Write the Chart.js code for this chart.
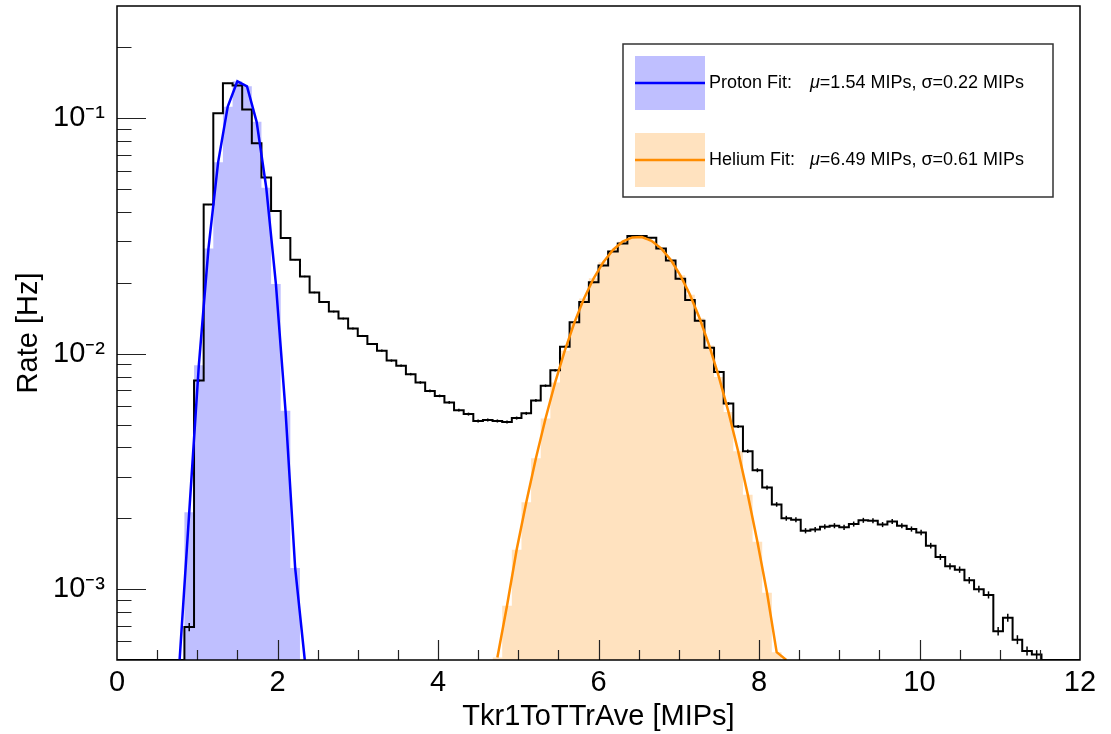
<!DOCTYPE html>
<html>
<head>
<meta charset="utf-8">
<script src="https://cdn.jsdelivr.net/npm/chart.js@4"></script>
<style>
  html, body { margin: 0; padding: 0; background: #fff; }
</style>
</head>
<body>
<canvas id="chart" width="1111" height="734"></canvas>
<script>
// histogram binning: 100 bins of 0.12 MIPs from 0 to 12
const binWidth = 0.12;

// measured rate per bin [Hz]
const rateHist = [
  0, 0, 0, 0, 0, 0, 0, 0.00069, 0.0077, 0.043,
  0.105, 0.141, 0.138, 0.109, 0.0783, 0.0561, 0.0404, 0.0310, 0.0251, 0.0213,
  0.0182, 0.0166, 0.0151, 0.0141, 0.0128, 0.0119, 0.0110, 0.0103, 0.00935, 0.0089,
  0.00819, 0.00755, 0.00695, 0.00662, 0.00621, 0.00576, 0.00554, 0.00518, 0.00523, 0.00518,
  0.00513, 0.00533, 0.00558, 0.00633, 0.00731, 0.0085, 0.0107, 0.0136, 0.0166, 0.0201,
  0.0237, 0.0272, 0.0294, 0.0316, 0.0316, 0.0311, 0.0280, 0.0249, 0.0208, 0.0169,
  0.0138, 0.0106, 0.00836, 0.00614, 0.00491, 0.00385, 0.0032, 0.0027, 0.00229, 0.0020,
  0.00197, 0.00177, 0.00179, 0.00184, 0.00186, 0.00183, 0.00189, 0.00196, 0.00195, 0.00188,
  0.00194, 0.00186, 0.0018, 0.00174, 0.00153, 0.00137, 0.00125, 0.00121, 0.00109, 0.0010,
  0.000945, 0.000663, 0.000756, 0.00061, 0.000546, 0.000527, 0, 0, 0, 0
];

// fit curves, sampled at the bin centres
const protonFirstBin = 6;
const protonFit = [0.00037, 0.00212, 0.00894, 0.0280, 0.0650, 0.1121, 0.1436,
  0.1367, 0.0966, 0.0507, 0.0198, 0.00572, 0.00123, 0.0002];
const heliumFirstBin = 39;
const heliumFit = [0.000512, 0.00085, 0.00147, 0.00234, 0.0036, 0.00531, 0.00755,
  0.0103, 0.01357, 0.01718, 0.02091, 0.02449, 0.0276, 0.02992, 0.03119, 0.03129,
  0.0302, 0.02804, 0.02505, 0.02153, 0.0178, 0.01415, 0.01083, 0.00797, 0.00565,
  0.00385, 0.00252, 0.00159, 0.000965, 0.00054, 0.00032];

const fitNames = ['Proton Fit:', 'Helium Fit:'];
const fitMu = ['1.54', '6.49'];
const fitSigma = ['0.22', '0.61'];

const xTickLabels = ['0', '2', '4', '6', '8', '10', '12'];
const yDecades = [0.001, 0.01, 0.1];
const yTickLabels = ['10⁻³', '10⁻²', '10⁻¹'];

const xMin = 0, xMax = 12, yMin = 5e-4, yMax = 0.3;

const fontFamily = "'Liberation Sans', Arial, Helvetica, sans-serif";
const fitColors = ['#0000ff', '#ff8c00'];
const fitFills = ['rgba(0, 0, 255, 0.25)', 'rgba(255, 140, 0, 0.25)'];

Chart.defaults.font.family = fontFamily;
Chart.defaults.color = '#000';

// values under the frame are drawn on the frame, like ROOT does on log axes
const clampY = v => Math.max(v, yMin);
const edge = k => +(k * binWidth).toFixed(3);
const centre = k => +((k + 0.5) * binWidth).toFixed(3);

// one point on the left edge of each bin plus the closing right edge,
// drawn with stepped: 'before' so each value stays flat across its bin
function stepPoints(values, first) {
  const pts = values.map((v, i) => ({ x: edge(first + i), y: clampY(v) }));
  pts.push({ x: edge(first + values.length), y: clampY(values[values.length - 1]) });
  return pts;
}
function centrePoints(values, first) {
  return values.map((v, i) => ({ x: centre(first + i), y: clampY(v) }));
}

const xTicks = [];
for (let v = xMin; v <= xMax; v += 0.5) xTicks.push(v);
const yTicks = [];
[0.0001, 0.001, 0.01, 0.1].forEach(d => {
  for (let m = 1; m <= 9; m++) {
    const v = m * d;
    if (v >= yMin * 0.999 && v <= yMax * 1.001) yTicks.push(v);
  }
});

const errPoints = rateHist
  .map((v, k) => ({ x: centre(k), y: v }))
  .filter(p => p.y > 0);

// ROOT style ticks drawn inside the frame, plus the frame itself
const innerTicks = {
  id: 'innerTicks',
  afterDatasetsDraw(chart) {
    const { ctx, chartArea: a, scales: { x, y } } = chart;
    ctx.save();
    ctx.strokeStyle = '#222';
    ctx.lineWidth = 1.2;
    ctx.beginPath();
    x.ticks.forEach(t => {
      if (t.value <= xMin || t.value >= xMax) return;
      const px = Math.round(x.getPixelForValue(t.value)) + 0.5;
      const len = t.value % 2 === 0 ? 20 : 10;
      ctx.moveTo(px, a.bottom);
      ctx.lineTo(px, a.bottom - len);
    });
    y.ticks.forEach(t => {
      const py = Math.round(y.getPixelForValue(t.value)) + 0.5;
      if (py <= a.top + 1 || py >= a.bottom - 1) return;
      const major = yDecades.some(d => Math.abs(d - t.value) < d * 1e-6);
      ctx.moveTo(a.left, py);
      ctx.lineTo(a.left + (major ? 29 : 14.5), py);
    });
    ctx.stroke();
    ctx.lineWidth = 1.5;
    ctx.strokeStyle = '#000';
    ctx.strokeRect(a.left, a.top, a.right - a.left, a.bottom - a.top);
    ctx.restore();
  }
};

const fitLegend = {
  id: 'fitLegend',
  afterDraw(chart) {
    const { ctx, chartArea: a } = chart;
    const bx = a.left + 506, by = a.top + 38, bw = 430, bh = 153;
    ctx.save();
    ctx.fillStyle = '#fff';
    ctx.fillRect(bx, by, bw, bh);
    ctx.strokeStyle = '#333';
    ctx.lineWidth = 1.5;
    ctx.strokeRect(bx, by, bw, bh);
    fitNames.forEach((name, i) => {
      const sy = by + 12 + i * 77;
      const my = sy + 27;
      ctx.fillStyle = fitFills[i];
      ctx.fillRect(bx + 12, sy, 70, 54);
      ctx.strokeStyle = fitColors[i];
      ctx.lineWidth = 2.5;
      ctx.beginPath();
      ctx.moveTo(bx + 12, my);
      ctx.lineTo(bx + 82, my);
      ctx.stroke();
      ctx.fillStyle = '#000';
      ctx.textBaseline = 'middle';
      ctx.font = '18px ' + fontFamily;
      ctx.fillText(name, bx + 86, my);
      let tx = bx + 187;
      ctx.font = 'italic 18px ' + fontFamily;
      ctx.fillText('μ', tx, my);
      tx += ctx.measureText('μ').width;
      ctx.font = '18px ' + fontFamily;
      ctx.fillText('=' + fitMu[i] + ' MIPs, σ=' + fitSigma[i] + ' MIPs', tx, my);
    });
    ctx.restore();
  }
};

new Chart(document.getElementById('chart'), {
  type: 'line',
  data: {
    datasets: [
      {
        label: 'Proton Fit',
        data: centrePoints(protonFit, protonFirstBin),
        borderColor: fitColors[0],
        borderWidth: 2.5,
        pointRadius: 0,
        order: 0
      },
      {
        label: 'Helium Fit',
        data: centrePoints(heliumFit, heliumFirstBin),
        borderColor: fitColors[1],
        borderWidth: 2.5,
        pointRadius: 0,
        order: 0
      },
      {
        label: 'errors',
        data: errPoints,
        showLine: false,
        pointStyle: 'line',
        rotation: 90,
        pointRadius: ctx => {
          const v = ctx.raw && ctx.raw.y;
          return v ? Math.min(4.5, 0.11 / Math.sqrt(v)) : 0;
        },
        pointBorderColor: '#000',
        pointBorderWidth: 1.5,
        order: 1
      },
      {
        label: 'Rate',
        data: stepPoints(rateHist, 0),
        stepped: 'before',
        borderColor: '#000',
        borderWidth: 2,
        pointRadius: 0,
        order: 2
      },
      {
        label: 'proton fill',
        data: stepPoints(protonFit, protonFirstBin),
        stepped: 'before',
        borderWidth: 0,
        borderColor: 'rgba(0,0,0,0)',
        backgroundColor: fitFills[0],
        fill: 'start',
        pointRadius: 0,
        order: 3
      },
      {
        label: 'helium fill',
        data: stepPoints(heliumFit, heliumFirstBin),
        stepped: 'before',
        borderWidth: 0,
        borderColor: 'rgba(0,0,0,0)',
        backgroundColor: fitFills[1],
        fill: 'start',
        pointRadius: 0,
        order: 3
      }
    ]
  },
  options: {
    responsive: false,
    animation: false,
    layout: { padding: { top: 6, right: 31, left: 0, bottom: 0 } },
    plugins: {
      legend: { display: false },
      tooltip: { enabled: false }
    },
    scales: {
      x: {
        type: 'linear',
        min: xMin,
        max: xMax,
        grid: { display: false, drawTicks: false },
        border: { display: false },
        afterBuildTicks: scale => { scale.ticks = xTicks.map(v => ({ value: v })); },
        afterFit: scale => {
          scale.height = 74;
          scale.paddingLeft = 0;
          scale.paddingRight = 0;
        },
        ticks: {
          autoSkip: false,
          maxRotation: 0,
          padding: 6,
          font: { size: 29 },
          callback: v => (v % 2 === 0 ? xTickLabels[v / 2] : '')
        },
        title: {
          display: true,
          text: 'Tkr1ToTTrAve [MIPs]',
          font: { size: 29 },
          padding: { top: 0, bottom: 0 }
        }
      },
      y: {
        type: 'logarithmic',
        min: yMin,
        max: yMax,
        grid: { display: false, drawTicks: false },
        border: { display: false },
        afterBuildTicks: scale => { scale.ticks = yTicks.map(v => ({ value: v })); },
        afterFit: scale => {
          scale.width = 117;
          scale.paddingTop = 0;
          scale.paddingBottom = 0;
        },
        ticks: {
          autoSkip: false,
          padding: 12,
          font: { size: 29 },
          callback: v => {
            const i = yDecades.findIndex(d => Math.abs(d - v) < d * 1e-6);
            return i >= 0 ? yTickLabels[i] : '';
          }
        },
        title: {
          display: true,
          text: 'Rate [Hz]',
          font: { size: 29 },
          padding: { top: 12, bottom: 0 }
        }
      }
    }
  },
  plugins: [innerTicks, fitLegend]
});
</script>
</body>
</html>
